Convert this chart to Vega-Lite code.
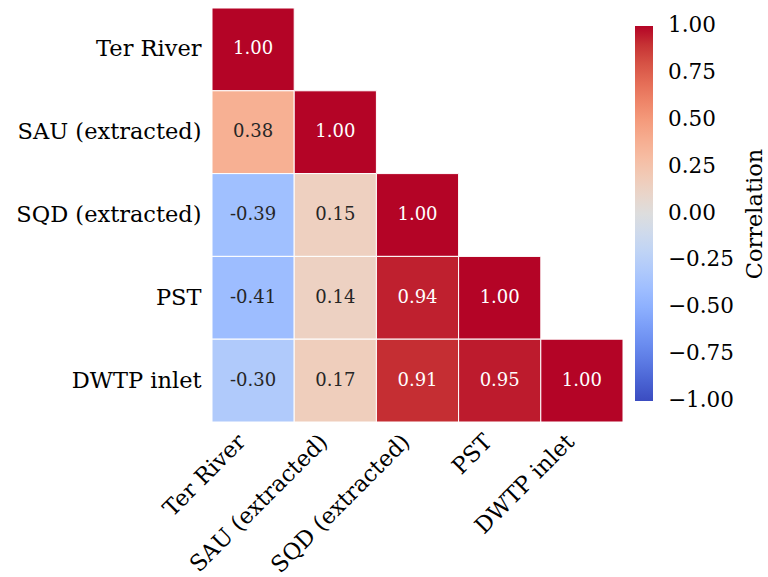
{
  "$schema": "https://vega.github.io/schema/vega-lite/v6.json",
  "padding": {"left": 15, "top": 7, "right": 5, "bottom": 5},
  "width": 411,
  "height": 414,
  "background": "white",
  "config": {
    "view": {"stroke": null},
    "font": "DejaVu Serif"
  },
  "data": {
    "values": [
      {"row": "Ter River", "col": "Ter River", "r": 1.00, "label": "1.00"},
      {"row": "SAU (extracted)", "col": "Ter River", "r": 0.38, "label": "0.38"},
      {"row": "SAU (extracted)", "col": "SAU (extracted)", "r": 1.00, "label": "1.00"},
      {"row": "SQD (extracted)", "col": "Ter River", "r": -0.39, "label": "-0.39"},
      {"row": "SQD (extracted)", "col": "SAU (extracted)", "r": 0.15, "label": "0.15"},
      {"row": "SQD (extracted)", "col": "SQD (extracted)", "r": 1.00, "label": "1.00"},
      {"row": "PST", "col": "Ter River", "r": -0.41, "label": "-0.41"},
      {"row": "PST", "col": "SAU (extracted)", "r": 0.14, "label": "0.14"},
      {"row": "PST", "col": "SQD (extracted)", "r": 0.94, "label": "0.94"},
      {"row": "PST", "col": "PST", "r": 1.00, "label": "1.00"},
      {"row": "DWTP inlet", "col": "Ter River", "r": -0.30, "label": "-0.30"},
      {"row": "DWTP inlet", "col": "SAU (extracted)", "r": 0.17, "label": "0.17"},
      {"row": "DWTP inlet", "col": "SQD (extracted)", "r": 0.91, "label": "0.91"},
      {"row": "DWTP inlet", "col": "PST", "r": 0.95, "label": "0.95"},
      {"row": "DWTP inlet", "col": "DWTP inlet", "r": 1.00, "label": "1.00"}
    ]
  },
  "encoding": {
    "x": {
      "field": "col", "type": "nominal",
      "sort": ["Ter River", "SAU (extracted)", "SQD (extracted)", "PST", "DWTP inlet"],
      "scale": {"paddingInner": 0, "paddingOuter": 0},
      "axis": {
        "title": null, "domain": false, "ticks": false, "labelAngle": -45,
        "labelAlign": "right", "labelBaseline": "top", "labelPadding": 8,
        "labelOffset": -19,
        "labelFontSize": 22.5, "labelColor": "#000000", "labelFont": "DejaVu Serif",
        "labelOverlap": false, "labelLimit": 400
      }
    },
    "y": {
      "field": "row", "type": "nominal",
      "sort": ["Ter River", "SAU (extracted)", "SQD (extracted)", "PST", "DWTP inlet"],
      "scale": {"paddingInner": 0, "paddingOuter": 0},
      "axis": {
        "title": null, "domain": false, "ticks": false, "labelPadding": 11,
        "labelFontSize": 22.5, "labelColor": "#000000", "labelFont": "DejaVu Serif",
        "labelLimit": 400
      }
    }
  },
  "layer": [
    {
      "mark": {"type": "rect", "stroke": "white", "strokeWidth": 1},
      "encoding": {
        "color": {
          "field": "r", "type": "quantitative",
          "scale": {
            "domain": [-1, -0.875, -0.75, -0.625, -0.5, -0.375, -0.25, -0.125, 0, 0.125, 0.25, 0.375, 0.5, 0.625, 0.75, 0.875, 1],
            "range": ["#3b4cc0", "#4d68d7", "#6282ea", "#779af7", "#8db0fe", "#a3c2ff", "#b8d0f9", "#ccd9ee", "#dddddd", "#ecd3c5", "#f5c4ac", "#f7b194", "#f49a7b", "#ec7f63", "#de604d", "#cb3e38", "#b40426"],
            "interpolate": "rgb"
          },
          "legend": {
            "title": "Correlation",
            "orient": "none",
            "legendX": 423,
            "legendY": 18,
            "direction": "vertical",
            "gradientLength": 375,
            "gradientThickness": 18,
            "gradientStrokeWidth": 0,
            "values": [-1, -0.75, -0.5, -0.25, 0, 0.25, 0.5, 0.75, 1],
            "format": ".2f",
            "labelFontSize": 21.5,
            "labelFont": "DejaVu Serif",
            "labelColor": "#000000",
            "labelOffset": 15,
            "labelOverlap": false,
            "titleOrient": "right",
            "titleFontSize": 22.5,
            "titleFontWeight": "normal",
            "titleFont": "DejaVu Serif",
            "titleColor": "#000000",
            "titleAnchor": "middle",
            "titlePadding": 10,
            "encode": {
              "title": {"update": {"angle": {"value": 270}, "baseline": {"value": "top"}}},
              "labels": {"update": {"baseline": {"value": "middle"}}}
            }
          }
        }
      }
    },
    {
      "mark": {"type": "text", "fontSize": 18, "font": "DejaVu Serif"},
      "encoding": {
        "text": {"field": "label"},
        "color": {
          "condition": {"test": "datum.r > 0.6", "value": "#ffffff"},
          "value": "#262626"
        }
      }
    }
  ]
}
